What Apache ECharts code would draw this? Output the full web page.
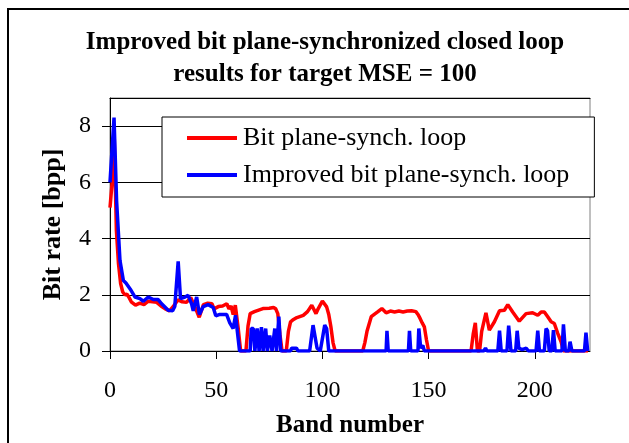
<!DOCTYPE html>
<html>
<head>
<meta charset="utf-8">
<script src="https://cdn.jsdelivr.net/npm/echarts@6/dist/echarts.min.js"></script>
<style>html,body{margin:0;padding:0;background:#fff;}#c{width:629px;height:443px;}</style>
</head>
<body>
<div id="c"></div>
<script>
var titleText = 'Improved bit plane-synchronized closed loop\nresults for target MSE = 100';
var seriesNames = ['Bit plane-synch. loop', 'Improved bit plane-synch. loop'];
var xTicks = [0, 50, 100, 150, 200];
var yTicks = [0, 2, 4, 6, 8];

var redBand = [0,1,2,3,4,5,6,7,8,9,10,12,14,16,18,20,22,24,26,28,30,32,34,36,38,40,42,44,46,48,49,51,53,55,56,57,58,59,60.3,61.5,64,65,66,68,69,72,75,77,78,79,80,81,83,84,85,86,88,91,93,95,97,98,100,102,103,104,105,106,119,120,121,123,126,128,130,132,134,136,138,140,142,144,145,146,147,148,149,150,170,171,172,173,174,175,177,178.6,181,183.4,185.7,187.3,189.6,192.7,195.9,199,201.4,203,204.5,206.1,207.7,209.2,210.8,212.4,213.5,225];
var redRate = [5.1,6.0,7.6,4.3,3.1,2.4,2.1,2.0,2.02,1.9,1.75,1.63,1.7,1.65,1.77,1.75,1.73,1.6,1.5,1.43,1.6,1.82,1.75,1.73,1.9,1.57,1.2,1.65,1.7,1.68,1.5,1.58,1.6,1.68,1.5,1.6,1.3,1.63,0.85,0,0,0.9,1.33,1.4,1.43,1.51,1.52,1.55,1.5,1.33,0.6,0,0,0.7,1.04,1.1,1.19,1.27,1.4,1.63,1.33,1.5,1.78,1.57,1.3,0.86,0.3,0,0,0.3,0.7,1.22,1.39,1.51,1.36,1.42,1.39,1.42,1.39,1.42,1.43,1.4,1.3,1.16,1.0,0.86,0.4,0,0,0.6,1.0,0,0,0.7,1.36,0.74,1.04,1.43,1.45,1.65,1.39,1.06,1.33,1.36,1.27,1.39,1.39,1.22,1.04,0.98,0.63,0.33,0,0];

var blueBand = [0,1.9,3.1,4.7,6.3,7.5,8,9.9,11.8,14.1,15.7,18,20.4,22.7,24.3,27.4,29.5,30.5,32.1,33.2,35.3,36.8,38.4,39.2,40.8,42.1,43.9,46.2,48.6,49.8,51.7,54.9,56.4,58,59.1,61,66,66.5,67.5,68.2,69.3,70.2,71.3,72.1,73.3,74.1,75.2,76.3,77.6,78.4,79.5,80.4,85,85.5,87.8,88.5,94,95.6,96.5,97.5,99,101.1,102,103,130,130.4,131,140.5,141,141.6,145,145.4,146.3,147.3,148,176,176.8,177.5,182.6,183.4,184.2,186.9,187.7,188.8,191,191.7,192.5,194,196,197,200.6,201.4,202.2,204.5,205.3,206,206.8,208,208.8,209.6,212.8,213.5,214.4,216,216.6,217.5,223.4,224.1,224.9];
var blueRate = [6.0,8.3,5.35,3.22,2.51,2.42,2.46,2.16,1.92,1.86,1.77,1.92,1.83,1.83,1.68,1.45,1.43,1.58,3.19,1.86,1.92,1.98,1.68,1.43,1.92,1.3,1.58,1.65,1.55,1.25,1.3,1.3,1.0,0.8,1.27,0,0,0.8,0.8,0,0.8,0,0.85,0,0.8,0,0.55,0,0.8,0,1.22,0,0,0.1,0.1,0,0,0.92,0.9,0.1,0,0.92,0.8,0,0,0.72,0,0,0.72,0,0,0.8,0.1,0.2,0,0,0.1,0,0,0.72,0,0,0.9,0,0,0.72,0.1,0.05,0.1,0,0,0.72,0,0,0.8,0.72,0,0,0.74,0,0,0.95,0,0,0.33,0,0,0.65,0];

function pts(xs, ys) { return xs.map(function (x, i) { return [x, ys[i]]; }); }

var serif = 'Liberation Serif';
var chart = echarts.init(document.getElementById('c'), null, {renderer: 'canvas'});
chart.setOption({
  animation: false,
  backgroundColor: '#fff',
  graphic: [{
    type: 'rect', z: -10, silent: true,
    shape: {x: 8, y: 9, width: 700, height: 500},
    style: {fill: '#fff', stroke: '#000', lineWidth: 2}
  }],
  title: {
    text: titleText,
    left: 320, top: 22, textAlign: 'center',
    textStyle: {fontFamily: serif, fontWeight: 'bold', fontSize: 25, lineHeight: 32, color: '#000'}
  },
  legend: {
    orient: 'vertical',
    left: 162, top: 117,
    padding: [8, 25, 9, 25],
    itemGap: 11,
    itemWidth: 50, itemHeight: 4,
    icon: 'rect',
    backgroundColor: '#fff',
    borderColor: '#000', borderWidth: 1,
    textStyle: {fontFamily: serif, fontSize: 26, lineHeight: 26, color: '#000', padding: [0, 0, 0, 1]},
    data: seriesNames
  },
  grid: {left: 110, top: 98, right: 39, bottom: 92, show: true, borderColor: '#808080', borderWidth: 1, backgroundColor: 'transparent'},
  xAxis: [{
    type: 'value', min: 0, max: 226, interval: 50,
    name: 'Band number', nameLocation: 'middle', nameGap: 62,
    nameTextStyle: {fontFamily: serif, fontWeight: 'bold', fontSize: 25, color: '#000'},
    axisLine: {show: true, onZero: false, lineStyle: {color: '#000', width: 1}},
    axisTick: {show: true, length: 8, inside: false, lineStyle: {color: '#000'}, customValues: xTicks},
    axisLabel: {fontFamily: serif, fontSize: 24, color: '#000', margin: 28, customValues: xTicks},
    splitLine: {show: false}
  }, {
    type: 'value', position: 'top', min: 0, max: 226,
    axisLine: {show: true, onZero: false, lineStyle: {color: '#000', width: 1}},
    axisTick: {show: false}, axisLabel: {show: false}, splitLine: {show: false}
  }],
  yAxis: {
    type: 'value', min: 0, max: 9, interval: 2,
    name: 'Bit rate [bpp]', nameLocation: 'middle', nameGap: 44, nameRotate: 90,
    nameTextStyle: {fontFamily: serif, fontWeight: 'bold', fontSize: 26, color: '#000'},
    axisLine: {show: true, onZero: false, lineStyle: {color: '#000', width: 1}},
    axisTick: {show: true, length: 8, lineStyle: {color: '#000'}, customValues: yTicks},
    axisLabel: {fontFamily: serif, fontSize: 24, color: '#000', margin: 19, customValues: yTicks},
    splitLine: {show: true, lineStyle: {color: '#000', width: 1}}
  },
  series: [{
    name: seriesNames[0], type: 'line', xAxisIndex: 0,
    data: pts(redBand, redRate),
    showSymbol: false, symbol: 'none',
    itemStyle: {color: '#ff0000'},
    lineStyle: {color: '#ff0000', width: 3.5}
  }, {
    name: seriesNames[1], type: 'line', xAxisIndex: 0,
    data: pts(blueBand, blueRate),
    showSymbol: false, symbol: 'none',
    itemStyle: {color: '#0000ff'},
    lineStyle: {color: '#0000ff', width: 3.5}
  }]
});
</script>
</body>
</html>
